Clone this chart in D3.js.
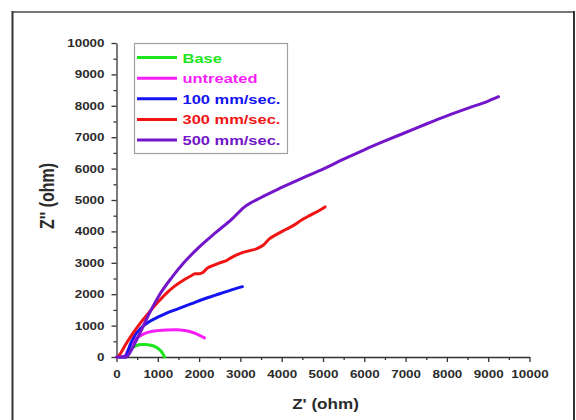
<!DOCTYPE html>
<html>
<head>
<meta charset="utf-8">
<script src="https://cdn.jsdelivr.net/npm/d3@7"></script>
<style>
  html, body { margin: 0; padding: 0; background: #fff; }
  svg { display: block; }
  text { font-family: "Liberation Sans", Arial, sans-serif; font-weight: bold; }
</style>
</head>
<body>
<svg id="chart" width="576" height="420"></svg>
<script>
// Nyquist plot: Z' (real) vs Z'' (imaginary), both in ohm
const seriesNames = ["Base", "untreated", "100 mm/sec.", "300 mm/sec.", "500 mm/sec."];
const seriesColors = ["#1ee61e", "#f71ef7", "#1414f0", "#f01414", "#7316c9"];

const baseZre = [230, 270, 330, 400, 500, 600, 700, 800, 900, 1000, 1080, 1130, 1165];
const baseZim = [0, 90, 220, 310, 370, 395, 400, 385, 350, 280, 185, 90, 0];

const untreatedZre = [150, 220, 280, 340, 420, 520, 650, 800, 1000, 1200, 1450, 1650, 1850, 2000, 2130];
const untreatedZim = [0, 60, 220, 380, 520, 630, 730, 800, 840, 860, 865, 845, 780, 700, 610];

const mm100Zre = [80, 220, 280, 350, 450, 600, 800, 1000, 1200, 1500, 1800, 2100, 2400, 2700, 3050];
const mm100Zim = [0, 0, 200, 450, 700, 930, 1130, 1270, 1390, 1540, 1690, 1840, 1970, 2100, 2240];

const mm300Zre = [30, 100, 200, 400, 600, 800, 1000, 1200, 1400, 1600, 1800, 1900, 2000, 2100, 2200, 2350, 2500, 2650, 2800, 3000, 3200, 3400, 3550, 3700, 3900, 4100, 4300, 4500, 4700, 4900, 5050];
const mm300Zim = [0, 120, 350, 760, 1120, 1440, 1740, 2020, 2250, 2430, 2580, 2650, 2650, 2700, 2830, 2920, 3000, 3060, 3180, 3300, 3380, 3450, 3560, 3760, 3920, 4060, 4200, 4380, 4520, 4660, 4780];

const mm500Zre = [0, 240, 330, 450, 600, 800, 1050, 1350, 1650, 2000, 2400, 2800, 3080, 3500, 4000, 4500, 5000, 5500, 6000, 6500, 7000, 7500, 8000, 8500, 9000, 9250];
const mm500Zim = [0, 0, 150, 450, 850, 1400, 2000, 2550, 3030, 3500, 3960, 4400, 4760, 5080, 5400, 5700, 5980, 6300, 6600, 6880, 7150, 7420, 7680, 7920, 8150, 8290];

const xTicks = [0, 1000, 2000, 3000, 4000, 5000, 6000, 7000, 8000, 9000, 10000];
const yTicks = [0, 1000, 2000, 3000, 4000, 5000, 6000, 7000, 8000, 9000, 10000];
const xTitle = "Z' (ohm)";
const yTitle = "Z'' (ohm)";

const seriesZre = [baseZre, untreatedZre, mm100Zre, mm300Zre, mm500Zre];
const seriesZim = [baseZim, untreatedZim, mm100Zim, mm300Zim, mm500Zim];

// Text in this figure is drawn horizontally widened
const STRETCH = 1.22;

const svg = d3.select("#chart");

// outer frame
const frame = svg.append("g");
frame.append("line").attr("x1", 12).attr("x2", 574).attr("y1", 12).attr("y2", 12)
  .attr("stroke", "#777").attr("stroke-width", 2);
frame.append("line").attr("x1", 12.5).attr("x2", 12.5).attr("y1", 11).attr("y2", 430)
  .attr("stroke", "#333").attr("stroke-width", 2);
frame.append("line").attr("x1", 574).attr("x2", 574).attr("y1", 11).attr("y2", 430)
  .attr("stroke", "#333").attr("stroke-width", 2);

const x = d3.scaleLinear().domain([0, 10000]).range([116.5, 529.5]);
const y = d3.scaleLinear().domain([0, 10000]).range([357, 43]);

const axisColor = "#333";
const minorVals = d3.range(500, 10000, 1000);

function styleAxis(g) {
  g.select(".domain").attr("stroke", axisColor).attr("stroke-width", 1.3);
  g.selectAll(".tick line").attr("stroke", axisColor).attr("stroke-width", 1.3);
  g.selectAll("text").attr("fill", "#2b2b2b").style("font-size", "11px");
}

// minor ticks
svg.append("g").attr("transform", `translate(0,${y(0)})`)
  .call(d3.axisBottom(x).tickValues(minorVals).tickSize(3).tickFormat(""))
  .call(styleAxis).select(".domain").remove();
svg.append("g").attr("transform", `translate(${x(0)},0)`)
  .call(d3.axisLeft(y).tickValues(minorVals).tickSize(3).tickFormat(""))
  .call(styleAxis).select(".domain").remove();

// major axes
const gx = svg.append("g").attr("transform", `translate(0,${y(0)})`)
  .call(d3.axisBottom(x).tickValues(xTicks).tickSize(5).tickSizeOuter(0).tickPadding(8).tickFormat(d3.format("d")))
  .call(styleAxis);
const gy = svg.append("g").attr("transform", `translate(${x(0)},0)`)
  .call(d3.axisLeft(y).tickValues(yTicks).tickSize(5).tickSizeOuter(0).tickPadding(7).tickFormat(d3.format("d")))
  .call(styleAxis);

// widen tick label glyphs while keeping their anchor
function widen(sel) {
  sel.each(function () {
    const t = d3.select(this);
    const tx = +t.attr("x") || 0;
    const ty = +t.attr("y") || 0;
    t.attr("x", 0).attr("y", 0)
      .attr("transform", `translate(${tx},${ty}) scale(${STRETCH},1)`);
  });
}
gx.selectAll(".tick text").call(widen);
gy.selectAll(".tick text").call(widen);

// axis titles
svg.append("text")
  .attr("transform", `translate(${(x(0) + x(10000)) / 2 + 2.5},409) scale(${STRETCH},1)`)
  .attr("text-anchor", "middle").attr("fill", "#2b2b2b").style("font-size", "14px")
  .text(xTitle);
svg.append("text")
  .attr("transform", `translate(54,196) scale(${STRETCH},1) rotate(-90)`)
  .attr("text-anchor", "middle").attr("fill", "#2b2b2b").style("font-size", "16px")
  .text(yTitle);

// curves
const line = d3.line()
  .x(d => x(d[0]))
  .y(d => y(d[1]))
  .curve(d3.curveMonotoneX);

const plot = svg.append("g");
seriesNames.forEach((name, i) => {
  const pts = seriesZre[i].map((v, k) => [v, seriesZim[i][k]]);
  plot.append("path")
    .datum(pts)
    .attr("d", line)
    .attr("fill", "none")
    .attr("stroke", seriesColors[i])
    .attr("stroke-width", 3)
    .attr("stroke-linejoin", "round")
    .attr("stroke-linecap", "round");
});

// legend
const legend = svg.append("g");
legend.append("rect")
  .attr("x", 134.5).attr("y", 43.5).attr("width", 153).attr("height", 110)
  .attr("fill", "#fff").attr("stroke", "#a0a0a0").attr("stroke-width", 1.2);
const rowY = d3.scaleLinear().domain([0, 4]).range([57.5, 140]);
seriesNames.forEach((name, i) => {
  const yy = rowY(i);
  legend.append("line")
    .attr("x1", 137).attr("x2", 177).attr("y1", yy).attr("y2", yy)
    .attr("stroke", seriesColors[i]).attr("stroke-width", 3);
  legend.append("text")
    .attr("transform", `translate(182.5,${yy + 5}) scale(${STRETCH},1)`)
    .attr("fill", seriesColors[i]).style("font-size", "13.5px")
    .text(name);
});
</script>
</body>
</html>
